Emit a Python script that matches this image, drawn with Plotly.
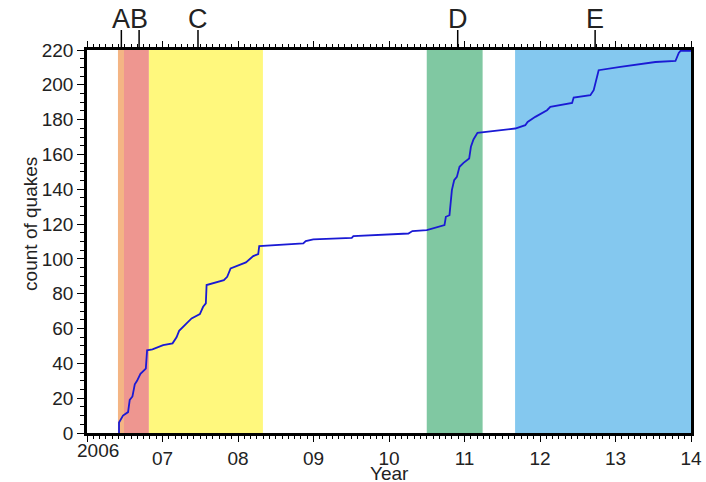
import plotly.graph_objects as go

# cumulative quake count (decimal year, count)
quake_years = [2006.424, 2006.424, 2006.477, 2006.544, 2006.566, 2006.602, 2006.633, 2006.663,
               2006.708, 2006.779, 2006.796, 2006.867, 2007.008, 2007.133, 2007.186, 2007.220,
               2007.309, 2007.385, 2007.495, 2007.538, 2007.574, 2007.584, 2007.813, 2007.857,
               2007.902, 2008.003, 2008.105, 2008.202, 2008.268, 2008.281, 2008.865, 2008.897,
               2008.997, 2009.507, 2009.528, 2010.257, 2010.310, 2010.501, 2010.611, 2010.735,
               2010.753, 2010.801, 2010.833, 2010.863, 2010.899, 2010.934, 2010.987, 2011.062,
               2011.085, 2011.119, 2011.172, 2011.672, 2011.805, 2011.836, 2011.938, 2012.093,
               2012.137, 2012.425, 2012.446, 2012.667, 2012.711, 2012.777, 2013.065, 2013.507,
               2013.529, 2013.794, 2013.838, 2013.861, 2014.0]
quake_counts = [0, 6, 10, 12, 19, 21, 28, 30,
                34, 37, 47.5, 48, 50.5, 51.5, 55, 58.7,
                62.6, 65.8, 68.3, 72.5, 74.5, 85, 87.8, 89.7,
                94.5, 96.4, 98, 101.6, 102.8, 107.3, 108.9, 110.2,
                111.2, 112.1, 113.1, 114.6, 116, 116.5, 117.9, 119.4,
                124.2, 125.1, 139.5, 145.2, 147.1, 152.9, 155.2, 157.7,
                164.4, 168.6, 172.4, 174.9, 176.8, 178.7, 181.6, 185.4,
                187.3, 189.6, 192.7, 194, 196.9, 208.4, 210.3, 212.6,
                213.1, 213.7, 218.3, 219.5, 219.5]

# shaded periods
band_starts = [2006.41, 2006.49, 2006.82, 2010.50, 2011.67]
band_ends = [2006.49, 2006.82, 2008.33, 2011.24, 2014.0]
band_colors = ["#f4b584", "#ee9690", "#fff87d", "#80c8a2", "#84c8ef"]

# labelled events on the top axis
event_names = ["A", "B", "C", "D", "E"]
event_years = [2006.455, 2006.69, 2007.47, 2010.91, 2012.73]

x_tick_vals = [2006, 2007, 2008, 2009, 2010, 2011, 2012, 2013, 2014]
x_tick_text = ["", "07", "08", "09", "10", "11", "12", "13", "14"]
first_year_label = "2006"
x_title = "Year"
y_title = "count of quakes"

FONT = "Arial, Liberation Sans, sans-serif"

fig = go.Figure()

for s, e, c in zip(band_starts, band_ends, band_colors):
    fig.add_vrect(x0=s, x1=e, fillcolor=c, opacity=1, line_width=0, layer="below")

fig.add_trace(go.Scatter(x=quake_years, y=quake_counts, mode="lines",
                         line=dict(color="#1a1ad4", width=1.8), showlegend=False,
                         hoverinfo="x+y"))

for name, yr in zip(event_names, event_years):
    fig.add_shape(type="line", xref="x", yref="paper", x0=yr, x1=yr,
                  y0=1, y1=1 + 20 / 383, line=dict(color="black", width=1.5))
    fig.add_annotation(x=yr, xref="x", y=1 + 20 / 383, yref="paper", text=name,
                       showarrow=False, yanchor="bottom", yshift=-5, borderpad=0,
                       font=dict(family=FONT, size=27, color="#222"))

fig.add_annotation(x=x_tick_vals[0], xref="x", y=0, yref="paper", text=first_year_label,
                   showarrow=False, yanchor="top", xanchor="center", xshift=11, yshift=-5,
                   font=dict(family=FONT, size=19, color="#222"))

# axis titles
fig.add_annotation(x=0.5, xref="paper", y=0, yref="paper", text=x_title,
                   showarrow=False, xanchor="center", yanchor="top", yshift=-29,
                   borderpad=0, font=dict(family=FONT, size=19, color="#222"))
fig.add_annotation(x=0, xref="paper", y=0.546, yref="paper", text=y_title,
                   textangle=-90, showarrow=False, xanchor="center", yanchor="middle",
                   xshift=-56, font=dict(family=FONT, size=19, color="#222"))

fig.update_layout(
    width=706, height=482,
    margin=dict(l=87, r=15, t=50, b=49),
    paper_bgcolor="white", plot_bgcolor="white",
    font=dict(family=FONT, size=19, color="#222"),
    xaxis=dict(range=[2006, 2014], tickvals=x_tick_vals, ticktext=x_tick_text,
               ticks="outside", ticklen=6, tickwidth=1.2, tickcolor="black",
               showline=True, linecolor="black", linewidth=2.5, mirror="ticks",
               showgrid=False, zeroline=False, automargin=False,
               minor=dict(dtick=1 / 12, tick0=2006, ticks="outside", ticklen=3,
                          tickwidth=1, tickcolor="black", showgrid=False),
               tickfont=dict(size=19)),
    yaxis=dict(range=[0, 220], dtick=20, tick0=0,
               ticks="outside", ticklen=7, tickwidth=1.2, tickcolor="black",
               showline=True, linecolor="black", linewidth=2.5, mirror=True,
               showgrid=False, zeroline=False, automargin=False,
               minor=dict(dtick=5, ticks="outside", ticklen=4, tickwidth=1,
                          tickcolor="black", showgrid=False),
               tickfont=dict(size=19)),
)

fig.write_html("out.html", config={"displayModeBar": False},
               post_script="document.body.style.margin='0';document.body.style.overflow='hidden';")
